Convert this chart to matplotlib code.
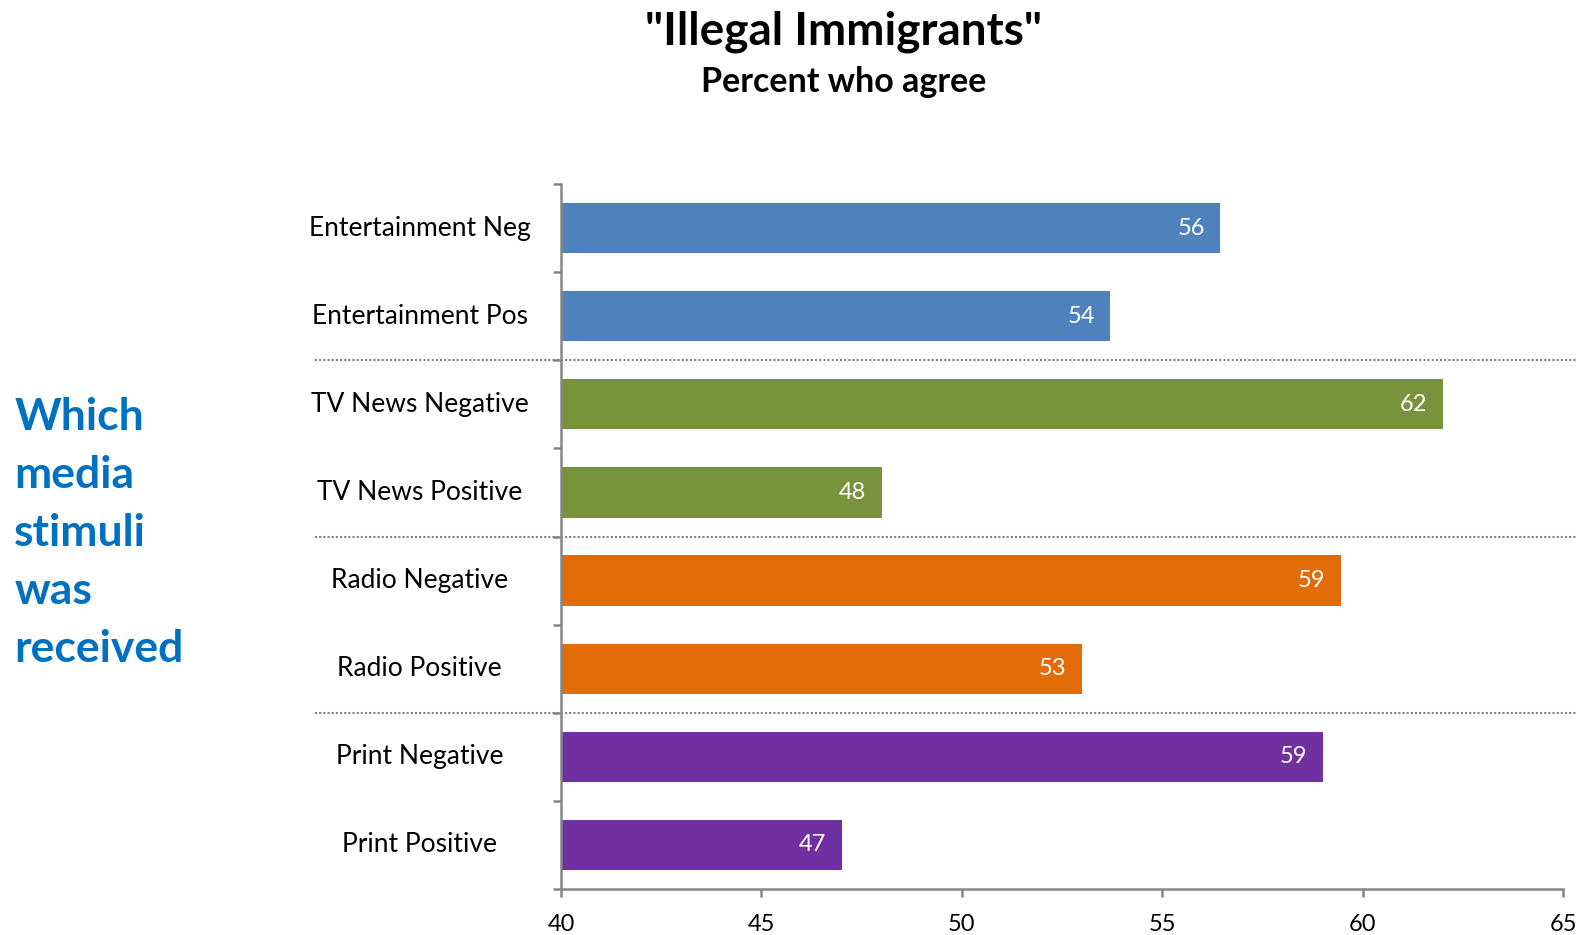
import matplotlib.pyplot as plt
import matplotlib.transforms as mtransforms

# chart data
categories = ['Entertainment Neg', 'Entertainment Pos',
              'TV News Negative', 'TV News Positive',
              'Radio Negative', 'Radio Positive',
              'Print Negative', 'Print Positive']
agree_pct = [56.45, 53.7, 62.0, 48.0, 59.45, 53.0, 59.0, 47.0]
group_colors = ['#4F81BD', '#4F81BD', '#77933C', '#77933C',
                '#E36C09', '#E36C09', '#7030A0', '#7030A0']
x_ticks = [40, 45, 50, 55, 60, 65]
side_note = ['Which', 'media', 'stimuli', 'was', 'received']

plt.rcParams['font.family'] = ['Lato', 'DejaVu Sans']
axis_gray = '#868686'

fig = plt.figure(figsize=(15.83, 9.35), dpi=100)
ax = fig.add_axes([0.3544, 0.0492, 0.633, 0.754])

ypos = list(range(len(categories)))
ax.barh(ypos, [v - 40 for v in agree_pct], left=40, height=0.57,
        color=group_colors)
ax.set_xlim(40, 65)
ax.set_ylim(len(categories) - 0.5, -0.5)

# value labels inside bar ends
for y, v in zip(ypos, agree_pct):
    ax.annotate('{:.0f}'.format(v), xy=(v, y), xytext=(-11, 0),
                textcoords='offset points', ha='right', va='center',
                color='white', fontsize=17)

# category labels, centred in the left margin
for y, name in zip(ypos, categories):
    ax.text(-0.141, y, name, transform=ax.get_yaxis_transform(),
            ha='center', va='center', fontsize=19, color='black')

# axis styling
for side in ['top', 'right']:
    ax.spines[side].set_visible(False)
for side in ['left', 'bottom']:
    ax.spines[side].set_color(axis_gray)
    ax.spines[side].set_linewidth(1.8)
ax.set_xticks(x_ticks)
ax.set_yticks([y - 0.5 for y in range(len(categories) + 1)])
ax.set_yticklabels([])
ax.tick_params(axis='y', length=6, width=1.8, color=axis_gray, direction='out')
ax.tick_params(axis='x', length=6, width=1.8, color=axis_gray, direction='out',
               labelsize=17, pad=12)

# dotted separators between media groups
trans = mtransforms.blended_transform_factory(ax.transAxes, ax.transData)
for b in [1.5, 3.5, 5.5]:
    ax.plot([-0.2455, 1.013], [b, b], transform=trans, clip_on=False,
            color='#7f7f7f', linestyle=(0, (1, 1)), linewidth=1.5)

# titles
fig.text(0.533, 0.966, '"Illegal Immigrants"', ha='center', va='center',
         fontsize=33, fontweight='bold')
fig.text(0.533, 0.912, 'Percent who agree', ha='center', va='center',
         fontsize=24.5, fontweight='bold')

# side note
for i, word in enumerate(side_note):
    fig.text(0.009, 1 - (417 + 58 * i) / 935, word, ha='left', va='center',
             fontsize=32, fontweight='bold', color='#0070C0')

fig.savefig('out.png', dpi=100)
